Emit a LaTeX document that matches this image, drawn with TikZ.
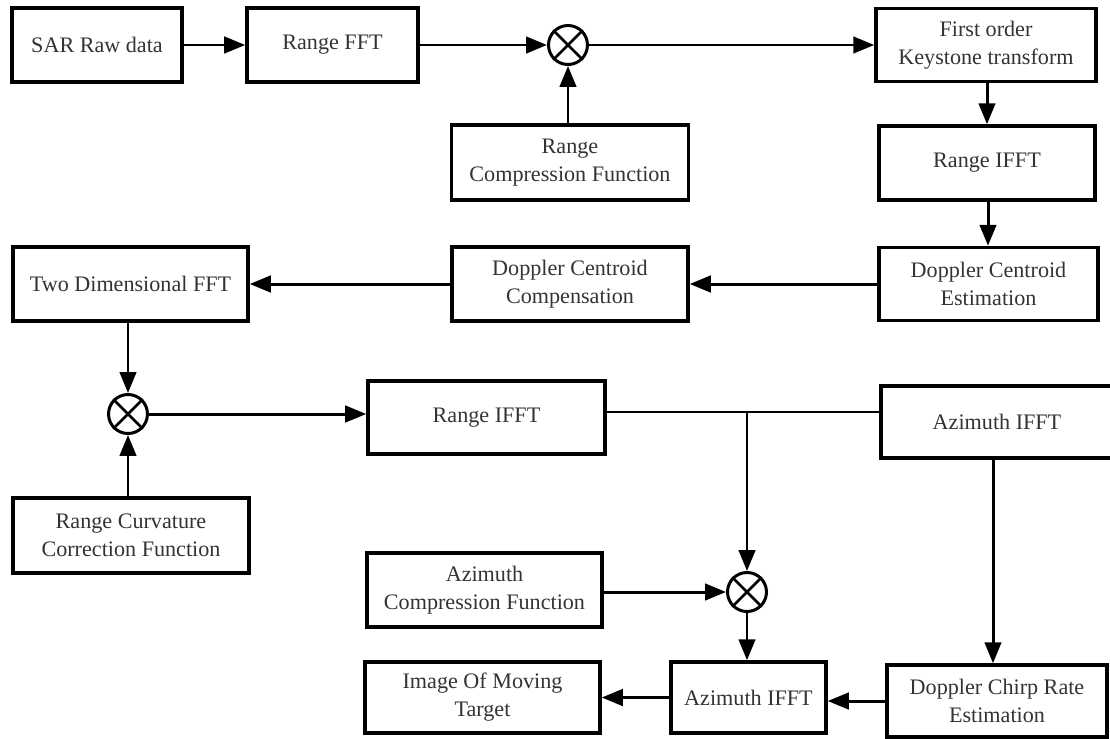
\documentclass[tikz,border=0pt]{standalone}
\usepackage{fontspec}
\setmainfont{Liberation Serif}
\usetikzlibrary{arrows.meta}
\begin{document}
\begin{tikzpicture}[x=0.02cm,y=-0.02cm,
  box/.style={draw, line width=2pt, inner sep=0pt, align=center, text=black!80,
    font=\fontsize{12.6}{16}\selectfont},
  sz/.style 2 args={minimum width=#1*0.02cm, minimum height=#2*0.02cm},
  mult/.style={draw, circle, line width=1.7pt, minimum size=0.78cm, inner sep=0pt},
  flow/.style={line width=1.7pt, -{Triangle[length=0.42cm,width=0.33cm]}},
  link/.style={line width=1.3pt}]
\useasboundingbox (0,0) rectangle (1110,738);
\clip (0,0) rectangle (1110,738);

% row 1
\node[box, sz={170}{74}] (sar) at (97,45) {SAR Raw data};
\node[box, sz={171}{74}] (rfft) at (332.5,45) {Range FFT};
\node[mult] (m1) at (568,45) {};
\node[box, sz={220}{73}] (key) at (986,45) {First order\\Keystone transform};
\node[box, sz={237}{75}] (rcf) at (570,162.5) {Range\\Compression Function};
\node[box, sz={216}{74}] (rifft1) at (987,163) {Range IFFT};

% row 2
\node[box, sz={219}{73}] (dce) at (988.5,284) {Doppler Centroid\\Estimation};
\node[box, sz={236}{74}] (dcc) at (570,284) {Doppler Centroid\\Compensation};
\node[box, sz={235}{74}] (tdfft) at (130.5,284) {Two Dimensional FFT};

% row 3
\node[mult] (m2) at (128,414) {};
\node[box, sz={236}{75}] (rcc) at (131,535.5) {Range Curvature\\Correction Function};
\node[box, sz={237}{73}] (rifft2) at (486.5,417.5) {Range IFFT};
\node[box, sz={232}{72}] (aifft1) at (997,422) {Azimuth IFFT};

% bottom
\node[box, sz={235}{74}] (acf) at (484.5,590) {Azimuth\\Compression Function};
\node[mult] (m3) at (747,592) {};
\node[box, sz={235}{71}] (img) at (482.5,697.5) {Image Of Moving\\Target};
\node[box, sz={155}{71}] (aifft2) at (748.5,697.5) {Azimuth IFFT};
\node[box, sz={220}{72}] (dcre) at (997,701) {Doppler Chirp Rate\\Estimation};

% crosses in multipliers
\foreach \m in {m1,m2,m3}{
  \draw[line width=1.5pt] (\m.45) -- (\m.225) (\m.135) -- (\m.315);
}

\coordinate (j) at (747,412);
\coordinate (k) at (993,0);

% connectors
\draw[flow] (sar) -- (rfft);
\draw[flow] (rfft) -- (m1);
\draw[flow] (m1 |- rcf.north) -- (m1.south);
\draw[flow] (m1) -- (key);
\draw[flow] (key.south -| 987,0) -- (rifft1.north -| 987,0);
\draw[flow] (rifft1.south -| 988,0) -- (dce.north -| 988,0);
\draw[flow] (dce) -- (dcc);
\draw[flow] (dcc) -- (tdfft);
\draw[flow] (m2 |- tdfft.south) -- (m2.north);
\draw[flow] (m2 |- rcc.north) -- (m2.south);
\draw[flow] (m2.east) -- (m2 -| rifft2.west);
\draw[link] (j -| rifft2.east) -- (j -| aifft1.west);
\draw[flow] (j) -- (m3.north);
\draw[flow] (k |- aifft1.south) -- (k |- dcre.north);
\draw[flow] (acf.east |- m3) -- (m3.west);
\draw[flow] (m3.south) -- (m3.south |- aifft2.north);
\draw[flow] (dcre.west) -- (dcre.west -| aifft2.east);
\draw[flow] (aifft2.west) -- (aifft2.west -| img.east);
\end{tikzpicture}
\end{document}
